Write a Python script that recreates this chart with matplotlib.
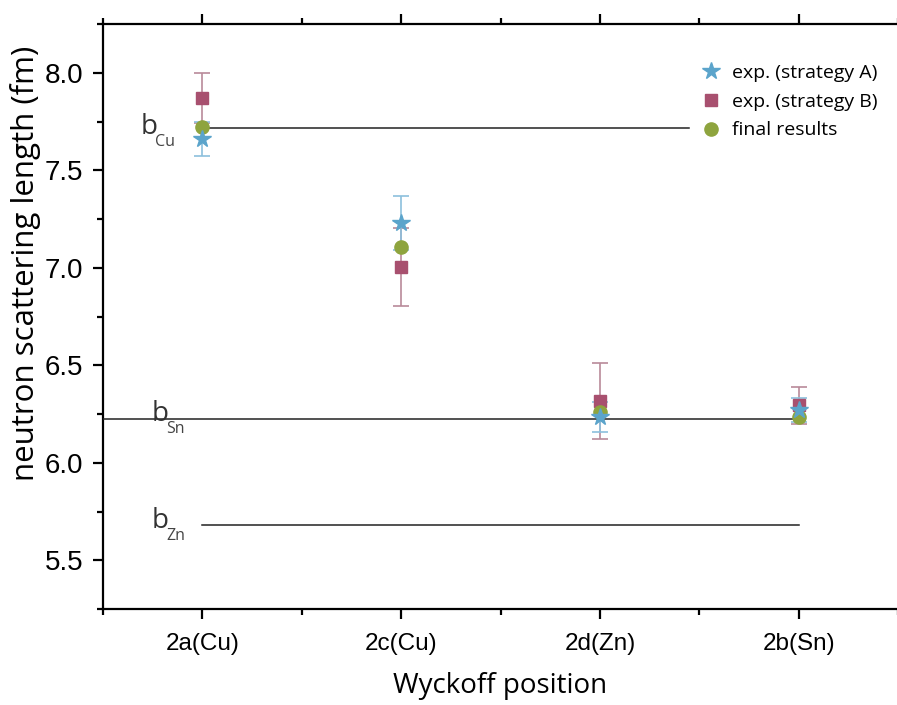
import matplotlib
matplotlib.use("Agg")
import matplotlib.pyplot as plt
from matplotlib.ticker import MultipleLocator, FixedLocator
from matplotlib.lines import Line2D

# Wyckoff sites and refined scattering lengths (fm)
sites = ["2a(Cu)", "2c(Cu)", "2d(Zn)", "2b(Sn)"]
strategy_a = [7.66, 7.23, 6.235, 6.27]
strategy_a_err = [0.085, 0.14, 0.075, 0.06]
strategy_b = [7.87, 7.005, 6.315, 6.295]
strategy_b_err = [0.13, 0.20, 0.195, 0.095]
final = [7.72, 7.105, 6.26, 6.235]

# Tabulated coherent scattering lengths
ref_names = ["Cu", "Sn", "Zn"]
ref_values = [7.718, 6.225, 5.68]
ref_spans = [(1.0, 3.45), (0.5, 4.0), (1.0, 4.0)]

c_a = "#5BA4CB"
c_b = "#A8506F"
c_f = "#8EA43E"

fig = plt.figure(figsize=(8.97, 7.05), dpi=100)
ax = fig.add_axes([103 / 897, 96 / 705, 795 / 897, 585 / 705])

x = list(range(1, len(sites) + 1))

ax.errorbar(x, strategy_b, yerr=strategy_b_err, fmt="none", ecolor="#B98A9A",
            elinewidth=1.2, capsize=6, capthick=1.2, zorder=2)
ax.errorbar(x, strategy_a, yerr=strategy_a_err, fmt="none", ecolor="#8CC0DD",
            elinewidth=1.2, capsize=6, capthick=1.2, zorder=2)

for (name, val), (x0, x1) in zip(zip(ref_names, ref_values), ref_spans):
    ax.plot([x0, x1], [val, val], color="#222222", lw=1.1, zorder=3)

ax.plot(x, strategy_b, "s", color=c_b, ms=9, zorder=4)
ax.plot(x, final, "o", color=c_f, ms=9.5, zorder=5)
ax.plot(x, strategy_a, "*", color=c_a, ms=13, zorder=6)

label_pos = {"Cu": (0.69, 7.72), "Sn": (0.745, 6.25), "Zn": (0.745, 5.70)}
for name in ref_names:
    lx, ly = label_pos[name]
    ax.text(lx, ly, "b", fontsize=20, color="#333333", family="Open Sans",
            ha="left", va="center")
    ax.text(lx + 0.072, ly - 0.075, name, fontsize=11.5, color="#444444",
            family="Open Sans", ha="left", va="center")

ax.set_xlim(0.5, 4.5)
ax.set_ylim(5.25, 8.25)

ax.xaxis.set_major_locator(FixedLocator(x))
ax.xaxis.set_minor_locator(FixedLocator([0.5, 1.5, 2.5, 3.5, 4.5]))
ax.set_xticklabels(sites)
ax.yaxis.set_major_locator(MultipleLocator(0.5))
ax.yaxis.set_minor_locator(MultipleLocator(0.25))

for spine in ["left", "bottom", "top"]:
    ax.spines[spine].set_linewidth(1.6)
ax.spines["right"].set_visible(False)

ax.tick_params(axis="both", which="major", direction="out", length=7, width=1.6,
               top=True, labeltop=False)
ax.tick_params(axis="both", which="minor", direction="out", length=4, width=1.6,
               top=True)
ax.tick_params(axis="x", which="major", pad=10, labelsize=17.5)
ax.tick_params(axis="y", which="major", pad=7, labelsize=20)
for lbl in ax.get_xticklabels() + ax.get_yticklabels():
    lbl.set_family("Liberation Sans")

ax.set_xlabel("Wyckoff position", fontsize=20, family="Open Sans")
ax.xaxis.set_label_coords(0.5, -0.108)
ax.set_ylabel("neutron scattering length (fm)", fontsize=22.5, family="Open Sans")
ax.yaxis.set_label_coords(-0.078, 0.59)

handles = [
    Line2D([], [], ls="none", marker="*", color=c_a, ms=13),
    Line2D([], [], ls="none", marker="s", color=c_b, ms=9),
    Line2D([], [], ls="none", marker="o", color=c_f, ms=9.5),
]
ax.legend(handles, ["exp. (strategy A)", "exp. (strategy B)", "final results"],
          loc="upper left", bbox_to_anchor=(0.735, 0.945), frameon=False,
          prop={"family": "Open Sans", "size": 14}, handletextpad=0.3,
          labelspacing=0.55, borderaxespad=0, handlelength=1.6)

fig.savefig("out.png", dpi=100)
